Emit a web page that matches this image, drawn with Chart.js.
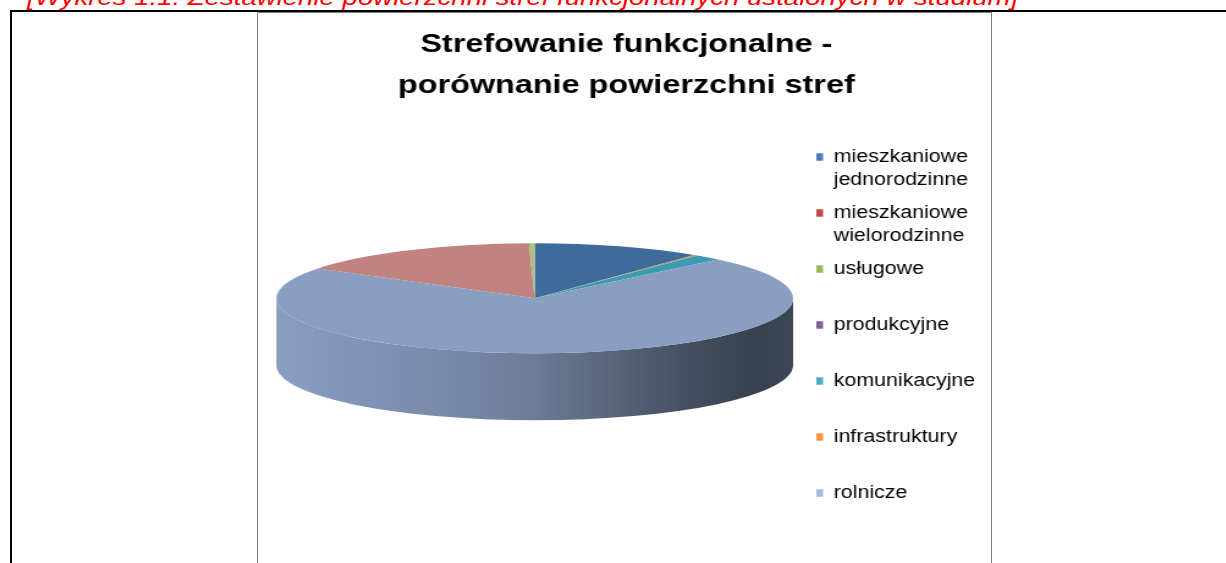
<!DOCTYPE html>
<html>
<head>
<meta charset="utf-8">
<script src="https://cdn.jsdelivr.net/npm/chart.js@4.4.1/dist/chart.umd.min.js"></script>
<style>
  html, body { margin: 0; padding: 0; background: #fff; overflow: hidden; width: 1226px; height: 563px; }
  #caption { position: absolute; left: 27px; top: -13px; font: italic 22.6px "Liberation Sans", Arial, sans-serif; line-height: 1; color: #ff0000; white-space: nowrap; transform: scaleX(1.22); transform-origin: 0 0; }
  #frame { position: absolute; left: 10px; top: 10px; width: 1300px; height: 700px; border: 2px solid #000; }
  #box { position: absolute; left: 257px; top: 12px; width: 733px; height: 620px; border: 1px solid #808080; }
  #stretch { position: absolute; left: 0; top: 0; width: 600px; height: 550px; transform: scaleX(1.2217); transform-origin: 0 0; }
</style>
</head>
<body>
<div id="caption">[Wykres 1.1. Zestawienie powierzchni stref funkcjonalnych ustalonych w studium]</div>
<div id="frame"></div>
<div id="box"><div id="stretch"><canvas id="c"></canvas></div></div>
<script>
// ---- data (legend order) ----
const categories = ['mieszkaniowe jednorodzinne', 'mieszkaniowe wielorodzinne', 'usługowe', 'produkcyjne', 'komunikacyjne', 'infrastruktury', 'rolnicze'];
const shares = [10.6, 15.5, 0.35, 0.05, 1.7, 0.2, 71.6];
// clockwise order of the slices starting at 12 o'clock
const drawOrder = [0, 5, 3, 4, 6, 1, 2];
const titleLines = ['Strefowanie funkcjonalne -', 'porównanie powierzchni stref'];

// ---- styles ----
const faceColors = ['#3f6a9c', '#c0837f', '#a9c07e', '#7a5f9a', '#3b9bb3', '#b39a45', '#8a9ec2'];
const keyColors  = ['#4a7ebb', '#be4b48', '#98b954', '#7d60a0', '#4aacc6', '#f79646', '#a5b9de'];
const FONT = '"Liberation Sans", Arial, sans-serif';

function scaleColor(hex, f) {
  const n = parseInt(hex.slice(1), 16);
  const r = Math.round(((n >> 16) & 255) * f), g = Math.round(((n >> 8) & 255) * f), b = Math.round((n & 255) * f);
  return `rgb(${r},${g},${b})`;
}
function lines(label) {
  const parts = label.split(' ');
  while (parts.length < 2) parts.push('');
  return parts;
}

const pie3d = {
  id: 'pie3d',
  beforeDatasetsDraw(chart, args, o) {
    const arcs = chart.getDatasetMeta(0).data;
    const ctx = chart.ctx;
    const {x, y, outerRadius: R} = arcs[0].getProps(['x', 'y', 'outerRadius'], true);
    const cy = y - o.lift, ry = R * o.tilt, d = o.depth;
    const colors = chart.data.datasets[0].backgroundColor;
    ctx.save();
    arcs.forEach((arc, i) => {
      const {startAngle, endAngle} = arc.getProps(['startAngle', 'endAngle'], true);
      const s = Math.max(startAngle, 0), e = Math.min(endAngle, Math.PI);
      if (e <= s) return;
      const g = ctx.createLinearGradient(x - R, 0, x + R, 0);
      o.shade.forEach(([t, f]) => g.addColorStop(t, scaleColor(colors[i], f)));
      ctx.beginPath();
      ctx.ellipse(x, cy, R, ry, 0, s, e, false);
      ctx.ellipse(x, cy + d, R, ry, 0, e, s, true);
      ctx.closePath();
      ctx.fillStyle = g;
      ctx.fill();
    });
    ctx.restore();
    ctx.save();
    ctx.translate(0, cy);
    ctx.scale(1, o.tilt);
    ctx.translate(0, -y);
  },
  afterDatasetsDraw(chart) {
    chart.ctx.restore();
  }
};

new Chart(document.getElementById('c'), {
  type: 'pie',
  data: {
    labels: drawOrder.map(i => categories[i]),
    datasets: [{
      data: drawOrder.map(i => shares[i]),
      backgroundColor: drawOrder.map(i => faceColors[i]),
      borderWidth: 0,
      radius: 211.5,
      clip: false
    }]
  },
  options: {
    responsive: true,
    maintainAspectRatio: false,
    animation: false,
    events: [],
    layout: { padding: { left: 6, right: 3, top: 0, bottom: 0 } },
    plugins: {
      tooltip: { enabled: false },
      title: {
        display: true,
        text: titleLines,
        color: '#000',
        font: { family: FONT, size: 26.5, weight: 'bold', lineHeight: 1.52 },
        padding: { top: 12, bottom: 10 }
      },
      legend: {
        position: 'right',
        align: 'center',
        fullSize: false,
        labels: {
          boxWidth: 5.5,
          boxHeight: 7.5,
          padding: 10,
          color: '#000',
          font: { family: FONT, size: 17.5, lineHeight: 1.314 },
          generateLabels: () => categories.map((c, i) => ({
            text: lines(c),
            fillStyle: keyColors[i],
            strokeStyle: keyColors[i],
            lineWidth: 0,
            hidden: false,
            index: drawOrder.indexOf(i)
          }))
        }
      },
      pie3d: {
        tilt: 0.26,
        depth: 67,
        lift: 41,
        shade: [[0, 1.0], [0.27, 0.9], [0.5, 0.78], [0.8, 0.5], [0.92, 0.41], [1, 0.44]]
      }
    }
  },
  plugins: [pie3d]
});
</script>
</body>
</html>
